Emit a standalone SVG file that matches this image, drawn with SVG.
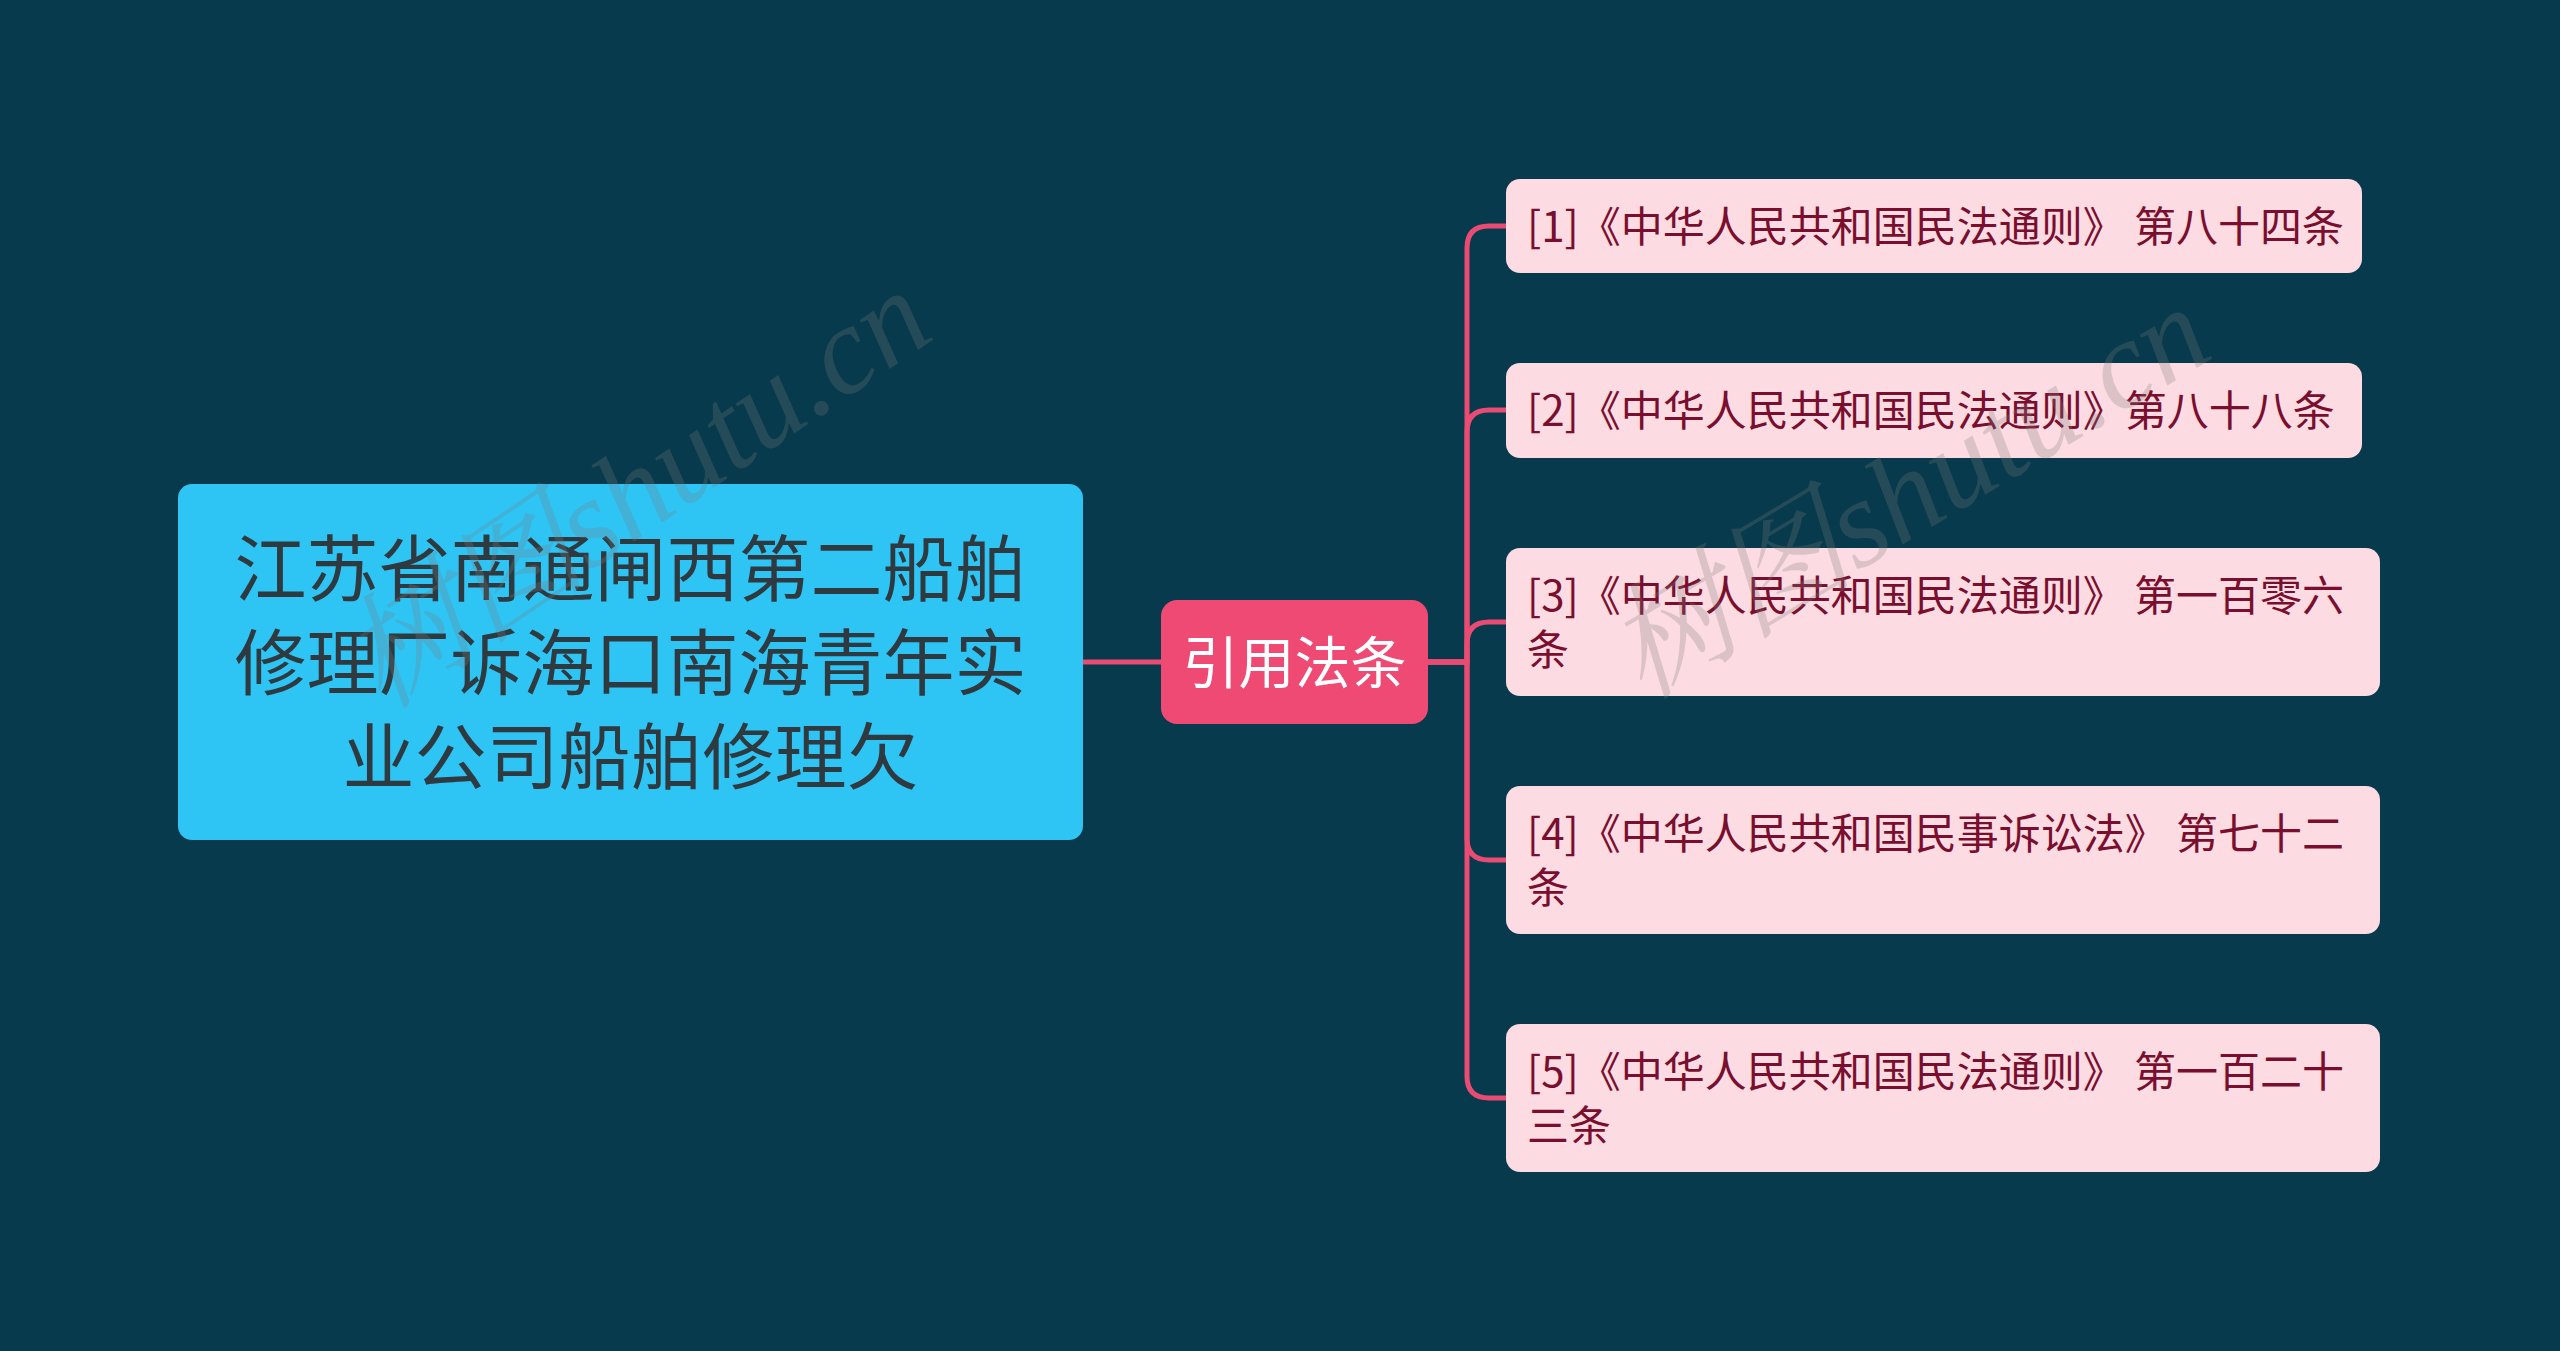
<svg xmlns="http://www.w3.org/2000/svg" width="2560" height="1351" viewBox="0 0 2560 1351">
<style>
.cn{fill:none;stroke:#e94b73;stroke-width:5;stroke-linecap:round;stroke-linejoin:round}
.root{fill:#2ec4f4}
.mid{fill:#ee4a73}
.leaf{fill:#fcdbe2}
.rt{font-family:"Noto Sans CJK SC","Noto Sans",sans-serif;font-size:72px;fill:#2f3a40;text-anchor:middle}
.mt{font-family:"Noto Sans CJK SC","Noto Sans",sans-serif;font-size:56px;fill:#ffffff;text-anchor:middle}
.lt{font-family:"Noto Sans CJK SC","Noto Sans",sans-serif;font-size:42px;fill:#7a0e2e}
.wm{font-family:"Liberation Serif","Noto Serif CJK SC","Noto Sans CJK SC",serif;font-style:italic;font-size:125px;fill:#7a7a7a;fill-opacity:0.26}
</style>
<rect width="2560" height="1351" fill="#073a4c"/>
<g id="connectors">
<path class="cn" d="M1083 662 H1161"/>
<path class="cn" d="M1428 662 H1467 V248 Q1467 226 1489 226 H1506"/>
<path class="cn" d="M1428 662 H1467 V432 Q1467 410 1489 410 H1506"/>
<path class="cn" d="M1428 662 H1467 V644 Q1467 622 1489 622 H1506"/>
<path class="cn" d="M1428 662 H1467 V838 Q1467 860 1489 860 H1506"/>
<path class="cn" d="M1428 662 H1467 V1076 Q1467 1098 1489 1098 H1506"/>
</g>
<g id="root">
<rect class="root" x="178" y="484" width="905" height="356" rx="14"/>
<text class="rt" x="630.5" y="595"><tspan x="630.5">江苏省南通闸西第二船舶</tspan><tspan x="630.5" dy="94">修理厂诉海口南海青年实</tspan><tspan x="630.5" dy="94">业公司船舶修理欠</tspan></text>
</g>
<g id="mid">
<rect class="mid" x="1161" y="600" width="267" height="124" rx="16"/>
<text class="mt" x="1294.5" y="683">引用法条</text>
</g>
<g id="leaf1">
<rect class="leaf" x="1506" y="179" width="856" height="94" rx="14"/>
<text class="lt" x="1527" y="242">[1]《中华人民共和国民法通则》 第八十四条</text>
</g>
<g id="leaf2">
<rect class="leaf" x="1506" y="363" width="856" height="95" rx="14"/>
<text class="lt" x="1527" y="426">[2]《中华人民共和国民法通则》第八十八条</text>
</g>
<g id="leaf3">
<rect class="leaf" x="1506" y="548" width="874" height="148" rx="14"/>
<text class="lt" x="1527" y="611"><tspan x="1527">[3]《中华人民共和国民法通则》 第一百零六</tspan><tspan x="1527" dy="54">条</tspan></text>
</g>
<g id="leaf4">
<rect class="leaf" x="1506" y="786" width="874" height="148" rx="14"/>
<text class="lt" x="1527" y="849"><tspan x="1527">[4]《中华人民共和国民事诉讼法》 第七十二</tspan><tspan x="1527" dy="54">条</tspan></text>
</g>
<g id="leaf5">
<rect class="leaf" x="1506" y="1024" width="874" height="148" rx="14"/>
<text class="lt" x="1527" y="1087"><tspan x="1527">[5]《中华人民共和国民法通则》 第一百二十</tspan><tspan x="1527" dy="54">三条</tspan></text>
</g>
<g id="watermarks">
<text class="wm" x="660" y="524" text-anchor="middle" transform="rotate(-34 660 524)">树图shutu.cn</text>
<text class="wm" x="1930" y="528" text-anchor="middle" transform="rotate(-31 1930 528)">树图shutu.cn</text>
</g>
</svg>
